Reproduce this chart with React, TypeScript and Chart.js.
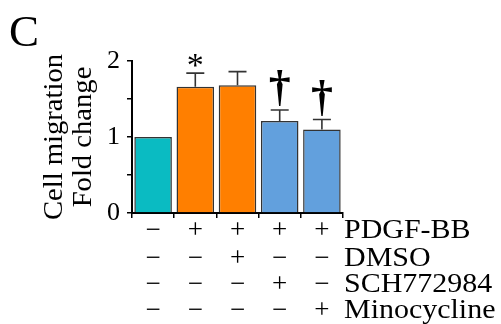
import React, { useEffect, useRef } from "react";
import { Chart, registerables } from "chart.js";

Chart.register(...registerables);

const categories = ["Control", "PDGF-BB", "PDGF-BB+DMSO", "PDGF-BB+SCH772984", "PDGF-BB+Minocycline"];
const values = [1.0, 1.66, 1.68, 1.21, 1.1];
const errors = [0, 0.18, 0.18, 0.145, 0.13];
const barColors = ["#0ABBC2", "#FF7F00", "#FF7F00", "#62A0DD", "#62A0DD"];
const marks = ["", "*", "", "\u2020", "\u2020"];
const rowLabels = ["PDGF-BB", "DMSO", "SCH772984", "Minocycline"];
const pdgf = ["\u2212", "+", "+", "+", "+"];
const dmso = ["\u2212", "\u2212", "+", "\u2212", "\u2212"];
const sch = ["\u2212", "\u2212", "\u2212", "+", "\u2212"];
const mino = ["\u2212", "\u2212", "\u2212", "\u2212", "+"];
const rows = [pdgf, dmso, sch, mino];
const yTicks = [0, 0.5, 1, 1.5, 2];
const panelLetter = "C";
const yTitle = ["Cell migration", "Fold change"];

const SERIF = "'Liberation Serif', 'Times New Roman', serif";

function stretched(ctx: CanvasRenderingContext2D, text: string, x: number, y: number, sx: number, align: CanvasTextAlign) {
  ctx.save();
  ctx.translate(x, y);
  ctx.scale(sx, 1);
  ctx.textAlign = align;
  ctx.fillText(text, 0, 0);
  ctx.restore();
}

const extrasPlugin = {
  id: "extras",
  afterDatasetsDraw(chart: any) {
    const ctx: CanvasRenderingContext2D = chart.ctx;
    const x = chart.scales.x;
    const y = chart.scales.y;
    ctx.save();
    // error bars
    ctx.strokeStyle = "#333";
    ctx.lineWidth = 1.6;
    values.forEach((v, i) => {
      if (!errors[i]) return;
      const cx = x.getPixelForValue(i);
      const y0 = y.getPixelForValue(v);
      const y1 = y.getPixelForValue(v + errors[i]);
      ctx.beginPath();
      ctx.moveTo(cx, y0);
      ctx.lineTo(cx, y1);
      ctx.moveTo(cx - 9, y1);
      ctx.lineTo(cx + 9, y1);
      ctx.stroke();
    });
    // significance marks
    ctx.fillStyle = "#000";
    ctx.textAlign = "center";
    ctx.textBaseline = "alphabetic";
    marks.forEach((m, i) => {
      if (!m) return;
      const cx = x.getPixelForValue(i);
      const yt = y.getPixelForValue(values[i] + errors[i]);
      if (m === "*") {
        ctx.font = `34px ${SERIF}`;
        ctx.fillText(m, cx, yt + 3);
      } else {
        ctx.font = `bold 44px ${SERIF}`;
        ctx.fillText(m, cx, yt - 9);
      }
    });
    // condition table
    const rowY = [238, 265.5, 292, 318];
    ctx.font = `27px ${SERIF}`;
    ctx.textBaseline = "alphabetic";
    rows.forEach((r, ri) => {
      r.forEach((s, i) => {
        stretched(ctx, s, x.getPixelForValue(i), rowY[ri], 1.0, "center");
      });
      stretched(ctx, rowLabels[ri], x.right + 1, rowY[ri], 1.11, "left");
    });
    // y axis title (two lines, rotated)
    const cy = (y.top + y.bottom) / 2;
    const titleX = [62, 91];
    yTitle.forEach((t, li) => {
      ctx.save();
      ctx.translate(titleX[li], cy);
      ctx.rotate(-Math.PI / 2);
      ctx.scale(1.08, 1);
      ctx.font = `26.5px ${SERIF}`;
      ctx.textAlign = "center";
      ctx.textBaseline = "alphabetic";
      ctx.fillText(t, 0, 0);
      ctx.restore();
    });
    // panel letter
    ctx.font = `45px ${SERIF}`;
    ctx.textAlign = "left";
    ctx.textBaseline = "alphabetic";
    ctx.fillText(panelLetter, 9, 46);
    ctx.restore();
  },
};

export default function App() {
  const ref = useRef<HTMLCanvasElement | null>(null);
  useEffect(() => {
    if (!ref.current) return;
    const chart = new Chart(ref.current, {
      type: "bar",
      data: {
        labels: categories,
        datasets: [
          {
            data: values,
            backgroundColor: barColors,
            borderColor: "#333",
            borderWidth: 1.5,
            barPercentage: 0.89,
            categoryPercentage: 1,
          },
        ],
      },
      options: {
        animation: false,
        responsive: false,
        maintainAspectRatio: false,
        layout: { padding: { left: 0, top: 61, right: 158, bottom: 101 } },
        plugins: { legend: { display: false }, tooltip: { enabled: false } },
        scales: {
          x: {
            type: "category",
            offset: true,
            grid: { drawOnChartArea: false, tickLength: 5, color: "#000", lineWidth: 1.5 },
            border: { display: true, color: "#000", width: 2 },
            ticks: { display: false },
            afterFit: (s: any) => {
              s.height = 10;
            },
          },
          y: {
            min: 0,
            max: 2,
            afterBuildTicks: (s: any) => {
              s.ticks = yTicks.map((v) => ({ value: v }));
            },
            grid: { drawOnChartArea: false, tickLength: 5, color: "#000", lineWidth: 1.5 },
            border: { display: true, color: "#000", width: 2 },
            ticks: {
              autoSkip: false,
              padding: 7,
              color: "#000",
              font: { family: SERIF, size: 26 },
              callback: (v: any) => (Number.isInteger(Number(v)) ? String(v) : ""),
            },
            title: { display: false },
            afterFit: (s: any) => {
              s.width = 132;
            },
          },
        },
      },
      plugins: [extrasPlugin],
    });
    return () => chart.destroy();
  }, []);
  return (
    <div style={{ position: "fixed", left: 0, top: 0, width: 501, height: 324, background: "#fff" }}>
      <canvas ref={ref} width={501} height={324} style={{ width: 501, height: 324 }} />
    </div>
  );
}
